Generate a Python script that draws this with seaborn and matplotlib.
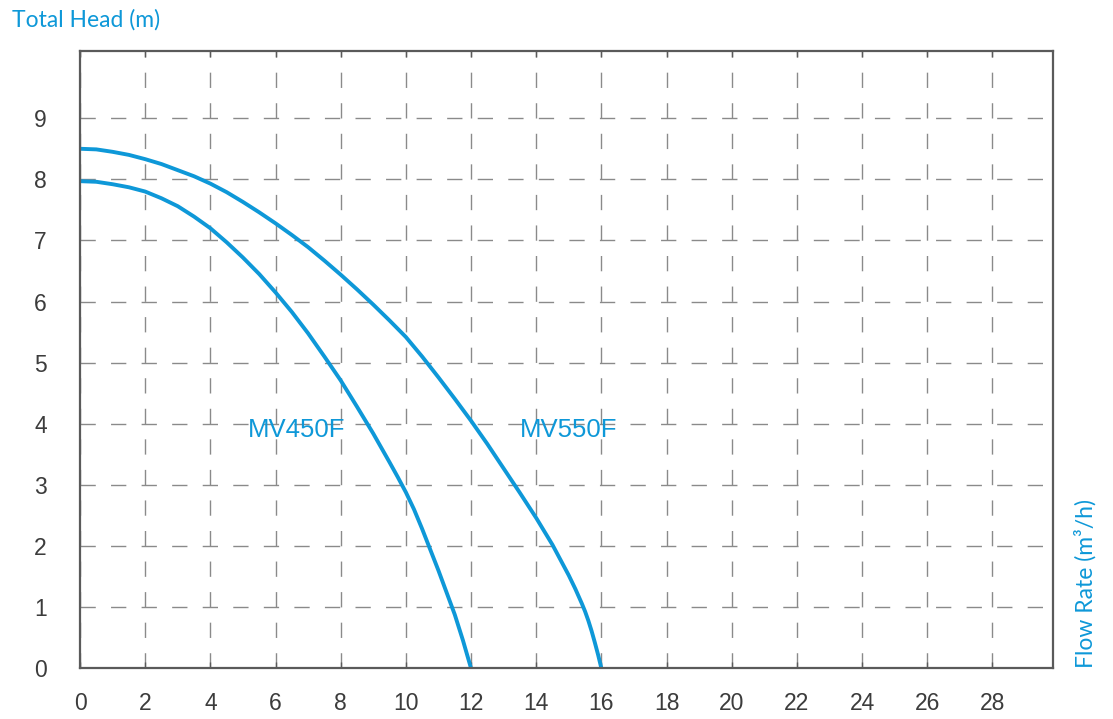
import pandas as pd
import seaborn as sns
import matplotlib.pyplot as plt

# values
flow_450 = [0, 0.5, 1, 1.5, 2, 2.5, 3, 3.5, 4, 4.5, 5, 5.5, 6, 6.5, 7, 7.5, 8, 8.5, 9,
            9.5, 9.75, 10, 10.25, 10.5, 10.75, 11, 11.25, 11.5, 11.75, 12]
head_450 = [7.97, 7.96, 7.92, 7.87, 7.8, 7.69, 7.56, 7.39, 7.2, 6.97, 6.72, 6.45, 6.15,
            5.83, 5.48, 5.1, 4.71, 4.28, 3.84, 3.37, 3.13, 2.88, 2.6, 2.28, 1.94, 1.6,
            1.24, 0.88, 0.46, 0]

flow_550 = [0, 0.5, 1, 1.5, 2, 2.5, 3, 3.5, 4, 4.5, 5, 5.5, 6, 6.5, 7, 7.5, 8, 8.5, 9,
            9.5, 10, 10.5, 11, 11.5, 12, 12.5, 13, 13.5, 14, 14.5, 15, 15.1, 15.2, 15.3,
            15.4, 15.5, 15.6, 15.7, 15.8, 15.9, 16]
head_550 = [8.5, 8.49, 8.45, 8.4, 8.33, 8.25, 8.15, 8.05, 7.93, 7.79, 7.63, 7.46, 7.28,
            7.09, 6.89, 6.67, 6.44, 6.2, 5.95, 5.69, 5.42, 5.1, 4.76, 4.41, 4.05, 3.67,
            3.27, 2.87, 2.46, 2.02, 1.52, 1.41, 1.3, 1.18, 1.06, 0.93, 0.78, 0.61, 0.42,
            0.22, 0]

models = ["MV450F", "MV550F"]
x_ticks = list(range(0, 30, 2))
y_ticks = list(range(0, 10))

blue = "#0e98d8"

df = pd.concat([
    pd.DataFrame({"flow": flow_450, "head": head_450, "model": models[0]}),
    pd.DataFrame({"flow": flow_550, "head": head_550, "model": models[1]}),
])

sns.set_style("white")
plt.rcParams["font.family"] = ["Liberation Sans", "DejaVu Sans"]

fig = plt.figure(figsize=(11.13, 7.19), dpi=100)
ax = fig.add_axes([0.0719, 0.0705, 0.8739, 0.8586])

sns.lineplot(data=df, x="flow", y="head", hue="model", palette=[blue, blue],
             sort=False, legend=False, linewidth=2.8, ax=ax)
for ln in ax.lines:
    ln.set_solid_joinstyle("round")
    ln.set_solid_capstyle("butt")

ax.set_xlim(0, 29.85)
ax.set_ylim(0, 10.1)
ax.set_xticks(x_ticks)
ax.set_yticks(y_ticks)
ax.set_xlabel("")
ax.set_ylabel("")

ax.grid(True, color="#8a8a8a", linestyle=(0, (11, 11)), linewidth=1.0)
for s in ax.spines.values():
    s.set_color("#5a5a5a")
    s.set_linewidth(1.6)

ax.tick_params(axis="x", direction="in", length=4, width=1, color="#5a5a5a",
               top=True, bottom=True, labelsize=16.5, labelcolor="#3c3c3c", pad=17)
ax.tick_params(axis="y", length=0, labelsize=16.5, labelcolor="#3c3c3c", pad=24)

# curve labels
ax.text(6.66, 3.9, models[0], color=blue, fontsize=18.5, ha="center", va="center")
ax.text(14.98, 3.9, models[1], color=blue, fontsize=18.5, ha="center", va="center")

fig.text(0.0108, 0.972, "Total Head (m)", color=blue, fontsize=16.5,
         family=["Lato", "DejaVu Sans"], ha="left", va="center")
fig.text(0.975, 0.071, "Flow Rate (m³/h)", color=blue, fontsize=16.5, rotation=90,
         family=["Lato", "DejaVu Sans"], ha="center", va="bottom")

fig.savefig("out.png", dpi=100)
